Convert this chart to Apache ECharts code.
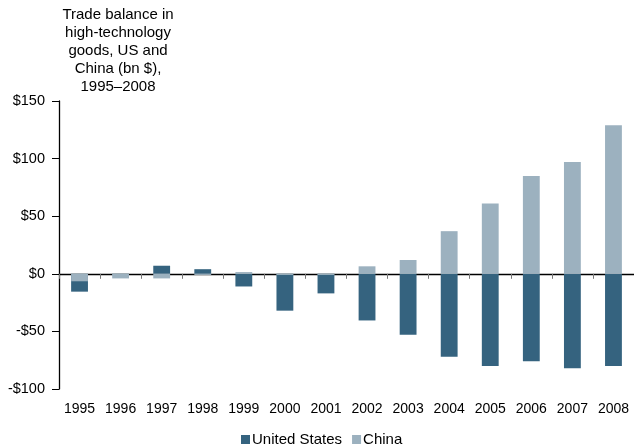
<!DOCTYPE html>
<html>
<head>
<meta charset="utf-8">
<script src="https://cdn.jsdelivr.net/npm/echarts@6/dist/echarts.min.js"></script>
<style>
  html, body { margin: 0; padding: 0; background: #fff; }
  #chart { width: 634px; height: 447px; }
</style>
</head>
<body>
<div id="chart"></div>
<script>
  // data (bn $)
  var years = ['1995', '1996', '1997', '1998', '1999', '2000', '2001',
    '2002', '2003', '2004', '2005', '2006', '2007', '2008'];
  var usBalance = [-15.5, -1, 7, 4, -11, -32, -17, -40.5, -53, -72, -80, -76, -82, -80];
  var chinaBalance = [-6.5, -4, -4, -1, 1.5, -1, -1, 6.5, 12, 37, 61, 85, 97, 129];
  var yTicks = [-100, -50, 0, 50, 100, 150];

  var DARK = '#35637f';
  var LIGHT = '#9cb1bf';
  var FONT = 'Liberation Sans, Arial, sans-serif';

  function money(v) {
    return v < 0 ? '-$' + Math.abs(v) : '$' + v;
  }

  var chart = echarts.init(document.getElementById('chart'));
  chart.setOption({
    animation: false,
    textStyle: { fontFamily: FONT, color: '#000' },
    graphic: [{
      type: 'text',
      x: 118,
      y: 6,
      style: {
        text: 'Trade balance in\nhigh-technology\ngoods, US and\nChina (bn $),\n1995–2008',
        fill: '#000',
        font: '15px ' + FONT,
        lineHeight: 18,
        align: 'center',
        verticalAlign: 'top'
      }
    }],
    legend: {
      data: ['United States', 'China'],
      top: 427,
      left: 236,
      itemWidth: 9,
      itemHeight: 9,
      itemGap: 10,
      icon: 'rect',
      textStyle: { fontSize: 15, color: '#000', fontFamily: FONT, padding: [0, 0, 0, -3] }
    },
    grid: { left: 59, right: 0, top: 101, height: 288, containLabel: false, outerBoundsMode: 'none' },
    xAxis: [{
      // year labels along the bottom
      type: 'category',
      data: years,
      position: 'bottom',
      axisLine: { show: false, onZero: false },
      axisTick: { show: false },
      axisLabel: { margin: 13, fontSize: 14, color: '#000', fontFamily: FONT }
    }, {
      // zero line with boundary ticks
      type: 'category',
      data: years,
      position: 'top',
      axisLine: { onZero: true, lineStyle: { color: '#000', width: 1.3 } },
      axisTick: { show: true, inside: true, length: 5, lineStyle: { color: '#777' } },
      axisLabel: { show: false }
    }],
    yAxis: {
      type: 'value',
      min: yTicks[0],
      max: yTicks[yTicks.length - 1],
      interval: 50,
      splitLine: { show: false },
      axisLine: { show: true, lineStyle: { color: '#000', width: 1.3 } },
      axisTick: { show: true, length: 7, lineStyle: { color: '#000' } },
      axisLabel: {
        fontSize: 14.5, color: '#000', fontFamily: FONT, margin: 14,
        formatter: money
      }
    },
    series: [{
      name: 'United States',
      type: 'bar',
      data: usBalance,
      barWidth: '41%',
      barGap: '-100%',
      itemStyle: { color: DARK }
    }, {
      name: 'China',
      type: 'bar',
      data: chinaBalance,
      barWidth: '41%',
      barGap: '-100%',
      itemStyle: { color: LIGHT }
    }]
  });
</script>
</body>
</html>
